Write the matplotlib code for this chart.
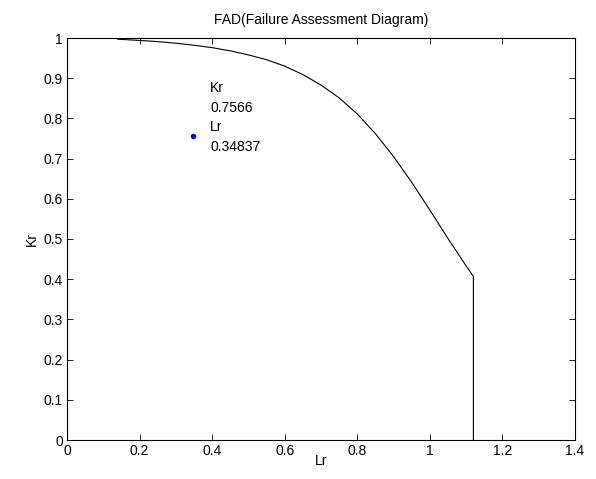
import matplotlib
matplotlib.use("Agg")
import matplotlib.pyplot as plt

# FAD curve points
lr_curve = [0.14, 0.20, 0.25, 0.30, 0.35, 0.40, 0.45, 0.50, 0.55, 0.60, 0.65,
            0.70, 0.75, 0.80, 0.85, 0.90, 0.95, 1.00, 1.05, 1.10, 1.12, 1.12]
kr_curve = [0.997, 0.994, 0.991, 0.987, 0.982, 0.976, 0.968, 0.958, 0.946, 0.930, 0.909,
            0.883, 0.851, 0.811, 0.762, 0.705, 0.641, 0.572, 0.501, 0.433, 0.407, 0.0]

# assessment point
pt_lr = 0.34837
pt_kr = 0.7566
label_text = "Kr\n0.7566\nLr\n0.34837"

xticks = [0, 0.2, 0.4, 0.6, 0.8, 1, 1.2, 1.4]
yticks = [0, 0.1, 0.2, 0.3, 0.4, 0.5, 0.6, 0.7, 0.8, 0.9, 1]

plt.rcParams['font.family'] = ['Liberation Sans', 'DejaVu Sans']

fig = plt.figure(figsize=(5.96, 4.79), dpi=100)
ax = fig.add_axes([67/596, 39/479, (575-67)/596, (440-38)/479])

ax.plot(lr_curve, kr_curve, color='black', linewidth=0.8)
ax.plot([pt_lr], [pt_kr], marker='o', color='blue', markersize=3, linestyle='none')
ax.text(0.395, 0.893, label_text, fontsize=10, va='top', ha='left', linespacing=1.5)

ax.set_xlim(0, 1.4)
ax.set_ylim(0, 1)
ax.set_xticks(xticks)
ax.set_xticklabels([f"{t:g}" for t in xticks])
ax.set_yticks(yticks)
ax.set_yticklabels([f"{t:g}" for t in yticks])
ax.tick_params(direction='in', top=True, right=True, length=4, labelsize=10, width=0.6, pad=3)
for s in ax.spines.values():
    s.set_linewidth(0.8)
ax.set_xlabel("Lr", fontsize=10, labelpad=-3)
ax.set_ylabel("Kr", fontsize=10, labelpad=3)
ax.set_title("FAD(Failure Assessment Diagram)", fontsize=10, pad=10)

fig.savefig("out.png", dpi=100)
